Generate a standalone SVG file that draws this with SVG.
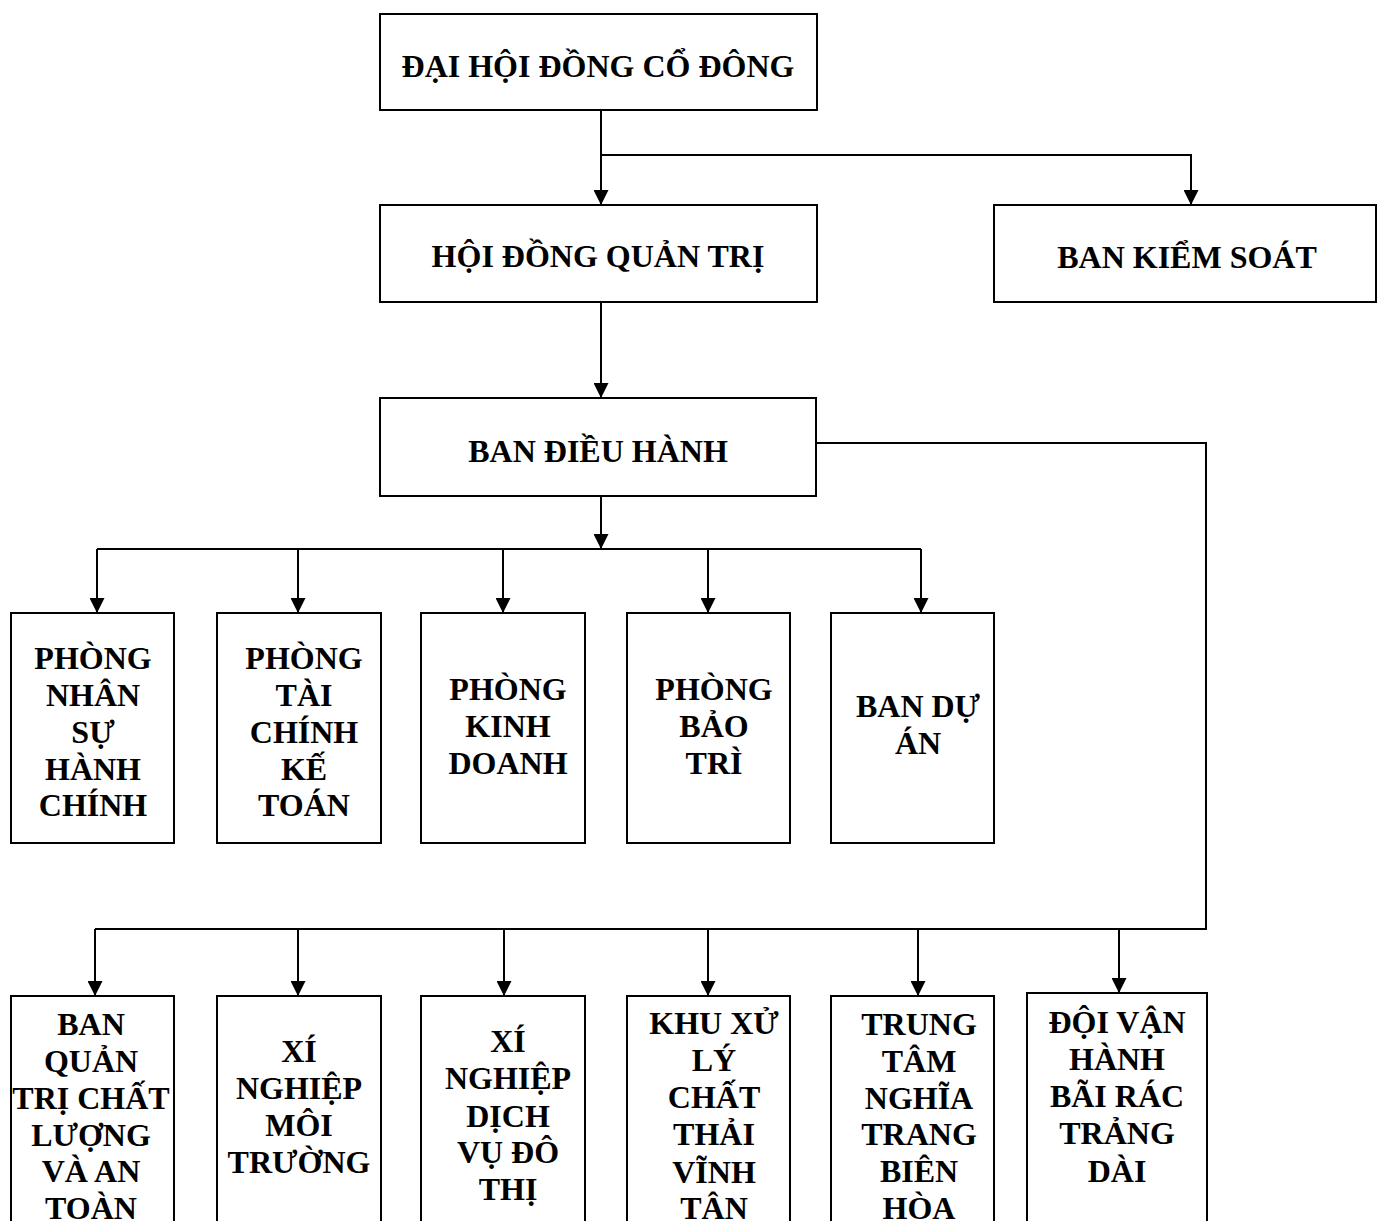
<svg xmlns="http://www.w3.org/2000/svg" width="1377" height="1221" viewBox="0 0 1377 1221">
<style>
.box{fill:#fff;stroke:#000;stroke-width:2}
.t{font-family:"Liberation Serif","Times New Roman",serif;font-weight:bold;font-size:32px;text-anchor:middle;fill:#000}
.c{fill:none;stroke:#000;stroke-width:2}
</style>
<defs>
<marker id="ah" viewBox="0 0 15 15" refX="15" refY="7.5" markerWidth="15" markerHeight="15" markerUnits="userSpaceOnUse" orient="auto">
<path d="M0,0 L15,7.5 L0,15 z" fill="#000"/>
</marker>
</defs>
<rect width="1377" height="1221" fill="#fff"/>
<g id="connectors">
<path class="c" d="M601,110 V205" marker-end="url(#ah)"/>
<path class="c" d="M601,155 H1191 V205" marker-end="url(#ah)"/>
<path class="c" d="M601,302 V398" marker-end="url(#ah)"/>
<path class="c" d="M601,496 V549" marker-end="url(#ah)"/>
<path class="c" d="M97,549 H921"/>
<path class="c" d="M97,549 V613" marker-end="url(#ah)"/>
<path class="c" d="M298,549 V613" marker-end="url(#ah)"/>
<path class="c" d="M503,549 V613" marker-end="url(#ah)"/>
<path class="c" d="M708,549 V613" marker-end="url(#ah)"/>
<path class="c" d="M921,549 V613" marker-end="url(#ah)"/>
<path class="c" d="M816,443 H1206 V929 H95"/>
<path class="c" d="M95,929 V996" marker-end="url(#ah)"/>
<path class="c" d="M298,929 V996" marker-end="url(#ah)"/>
<path class="c" d="M504,929 V996" marker-end="url(#ah)"/>
<path class="c" d="M708,929 V996" marker-end="url(#ah)"/>
<path class="c" d="M918,929 V996" marker-end="url(#ah)"/>
<path class="c" d="M1119,929 V993" marker-end="url(#ah)"/>
</g>
<g id="dhdcd"><rect class="box" x="380" y="14" width="437" height="96"/><text class="t" x="598" y="77">ĐẠI HỘI ĐỒNG CỔ ĐÔNG</text></g>
<g id="hdqt"><rect class="box" x="380" y="205" width="437" height="97"/><text class="t" x="598" y="267">HỘI ĐỒNG QUẢN TRỊ</text></g>
<g id="bks"><rect class="box" x="994" y="205" width="382" height="97"/><text class="t" x="1187" y="268">BAN KIỂM SOÁT</text></g>
<g id="bdh"><rect class="box" x="380" y="398" width="436" height="98"/><text class="t" x="598" y="462">BAN ĐIỀU HÀNH</text></g>

<g id="p1"><rect class="box" x="11" y="613" width="163" height="230"/>
<text class="t"><tspan x="93" y="669">PHÒNG</tspan><tspan x="93" y="706">NHÂN</tspan><tspan x="93" y="743">SỰ</tspan><tspan x="93" y="780">HÀNH</tspan><tspan x="93" y="816">CHÍNH</tspan></text></g>
<g id="p2"><rect class="box" x="217" y="613" width="164" height="230"/>
<text class="t"><tspan x="304" y="669">PHÒNG</tspan><tspan x="304" y="706">TÀI</tspan><tspan x="304" y="743">CHÍNH</tspan><tspan x="304" y="780">KẾ</tspan><tspan x="304" y="816">TOÁN</tspan></text></g>
<g id="p3"><rect class="box" x="421" y="613" width="164" height="230"/>
<text class="t"><tspan x="508" y="700">PHÒNG</tspan><tspan x="508" y="737">KINH</tspan><tspan x="508" y="774">DOANH</tspan></text></g>
<g id="p4"><rect class="box" x="627" y="613" width="163" height="230"/>
<text class="t"><tspan x="714" y="700">PHÒNG</tspan><tspan x="714" y="737">BẢO</tspan><tspan x="714" y="774">TRÌ</tspan></text></g>
<g id="p5"><rect class="box" x="831" y="613" width="163" height="230"/>
<text class="t"><tspan x="918" y="717">BAN DỰ</tspan><tspan x="918" y="754">ÁN</tspan></text></g>

<g id="b1"><rect class="box" x="11" y="996" width="163" height="240"/>
<text class="t"><tspan x="91" y="1035">BAN</tspan><tspan x="91" y="1072">QUẢN</tspan><tspan x="91" y="1109">TRỊ CHẤT</tspan><tspan x="91" y="1146">LƯỢNG</tspan><tspan x="91" y="1182">VÀ AN</tspan><tspan x="91" y="1219">TOÀN</tspan></text></g>
<g id="b2"><rect class="box" x="217" y="996" width="164" height="240"/>
<text class="t"><tspan x="299" y="1062">XÍ</tspan><tspan x="299" y="1099">NGHIỆP</tspan><tspan x="299" y="1136">MÔI</tspan><tspan x="299" y="1173">TRƯỜNG</tspan></text></g>
<g id="b3"><rect class="box" x="421" y="996" width="164" height="240"/>
<text class="t"><tspan x="508" y="1052">XÍ</tspan><tspan x="508" y="1089">NGHIỆP</tspan><tspan x="508" y="1127">DỊCH</tspan><tspan x="508" y="1163">VỤ ĐÔ</tspan><tspan x="508" y="1200">THỊ</tspan></text></g>
<g id="b4"><rect class="box" x="627" y="996" width="163" height="240"/>
<text class="t"><tspan x="714" y="1034">KHU XỬ</tspan><tspan x="714" y="1071">LÝ</tspan><tspan x="714" y="1108">CHẤT</tspan><tspan x="714" y="1145">THẢI</tspan><tspan x="714" y="1183">VĨNH</tspan><tspan x="714" y="1219">TÂN</tspan></text></g>
<g id="b5"><rect class="box" x="831" y="996" width="163" height="240"/>
<text class="t"><tspan x="919" y="1035">TRUNG</tspan><tspan x="919" y="1072">TÂM</tspan><tspan x="919" y="1109">NGHĨA</tspan><tspan x="919" y="1145">TRANG</tspan><tspan x="919" y="1182">BIÊN</tspan><tspan x="919" y="1219">HÒA</tspan></text></g>
<g id="b6"><rect class="box" x="1027" y="993" width="180" height="240"/>
<text class="t"><tspan x="1117" y="1033">ĐỘI VẬN</tspan><tspan x="1117" y="1070">HÀNH</tspan><tspan x="1117" y="1107">BÃI RÁC</tspan><tspan x="1117" y="1144">TRẢNG</tspan><tspan x="1117" y="1182">DÀI</tspan></text></g>
</svg>
